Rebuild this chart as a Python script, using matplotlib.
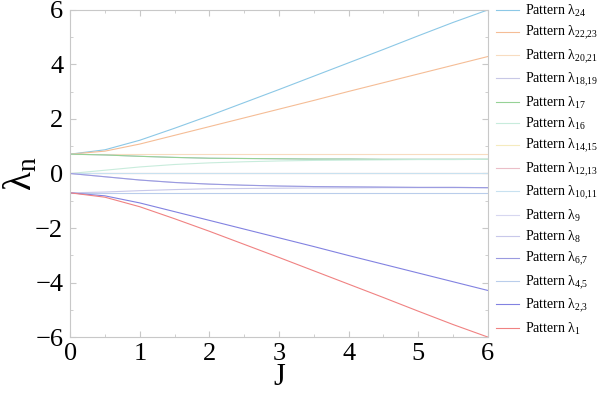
import numpy as np
import matplotlib
matplotlib.use('Agg')
import matplotlib.pyplot as plt

plt.rcParams['font.family'] = 'Liberation Serif'
plt.rcParams['mathtext.fontset'] = 'custom'
plt.rcParams['mathtext.rm'] = 'Liberation Serif'
plt.rcParams['mathtext.it'] = 'Liberation Serif:italic'

# valori
J = [0, 0.5, 1, 1.5, 2, 2.5, 3, 3.5, 4, 4.5, 5, 5.5, 6]

lam24 = [0.71, 0.87, 1.22, 1.66, 2.12, 2.60, 3.08, 3.57, 4.06, 4.55, 5.05, 5.54, 6.0]
lam22_23 = [0.71, 0.82, 1.08, 1.40, 1.72, 2.04, 2.36, 2.68, 3.01, 3.33, 3.65, 3.97, 4.29]
lam20_21 = [0.71, 0.71, 0.71, 0.71, 0.71, 0.71, 0.71, 0.71, 0.71, 0.71, 0.71, 0.71, 0.71]
lam18_19 = [0.71, 0.68, 0.63, 0.59, 0.56, 0.55, 0.54, 0.53, 0.53, 0.52, 0.52, 0.52, 0.52]
lam17 = [0.71, 0.68, 0.63, 0.59, 0.56, 0.55, 0.54, 0.53, 0.53, 0.52, 0.52, 0.52, 0.52]
lam16 = [0.0, 0.12, 0.24, 0.33, 0.39, 0.43, 0.46, 0.48, 0.49, 0.50, 0.51, 0.51, 0.52]
lam14_15 = [0.0, 0.0, 0.0, 0.0, 0.0, 0.0, 0.0, 0.0, 0.0, 0.0, 0.0, 0.0, 0.0]
lam12_13 = [0.0, 0.0, 0.0, 0.0, 0.0, 0.0, 0.0, 0.0, 0.0, 0.0, 0.0, 0.0, 0.0]
lam10_11 = [0.0, 0.0, 0.0, 0.0, 0.0, 0.0, 0.0, 0.0, 0.0, 0.0, 0.0, 0.0, 0.0]
lam9 = [0.0, -0.12, -0.24, -0.33, -0.39, -0.43, -0.46, -0.48, -0.49, -0.50, -0.51, -0.51, -0.52]
lam8 = [-0.71, -0.68, -0.63, -0.59, -0.56, -0.55, -0.54, -0.53, -0.53, -0.52, -0.52, -0.52, -0.52]
lam6_7 = [0.0, -0.12, -0.24, -0.33, -0.39, -0.43, -0.46, -0.48, -0.49, -0.50, -0.51, -0.51, -0.52]
lam4_5 = [-0.71, -0.71, -0.71, -0.71, -0.71, -0.71, -0.71, -0.71, -0.71, -0.71, -0.71, -0.71, -0.71]
lam2_3 = [-0.71, -0.82, -1.08, -1.40, -1.72, -2.04, -2.36, -2.68, -3.01, -3.33, -3.65, -3.97, -4.29]
lam1 = [-0.71, -0.87, -1.22, -1.66, -2.12, -2.60, -3.08, -3.57, -4.06, -4.55, -5.05, -5.54, -6.0]

serie = [lam24, lam22_23, lam20_21, lam18_19, lam17, lam16, lam14_15, lam12_13,
         lam10_11, lam9, lam8, lam6_7, lam4_5, lam2_3, lam1]
nomi = ['24', '22{,}23', '20{,}21', '18{,}19', '17', '16', '14{,}15', '12{,}13',
        '10{,}11', '9', '8', '6{,}7', '4{,}5', '2{,}3', '1']
colori = ['#8cc8e6', '#f5bd96', '#f8dcc0', '#c8c8e6', '#96d296', '#c8ecdc',
          '#f5ebbe', '#ebbec8', '#c8e1f0', '#d7d7f0', '#c8c8ea', '#9a9ae0',
          '#b9cdeb', '#8282e1', '#f08282']

fig = plt.figure(figsize = (6, 3.97), dpi = 100)
ax = fig.add_axes([0.117, 0.151, 0.696, 0.824])

for y, n, c in zip(serie, nomi, colori):
    ax.plot(J, y, color = c, lw = 0.8, label = 'Pattern λ$_{' + n + '}$')

ax.set_xlim(0, 6)
ax.set_ylim(-6, 6)
ax.set_xticks([0, 1, 2, 3, 4, 5, 6])
ax.set_yticks([-6, -4, -2, 0, 2, 4, 6])
ax.set_xticklabels(['0', '1', '2', '3', '4', '5', '6'])
ax.set_yticklabels(['\u22126', '\u22124', '\u22122', '0', '2', '4', '6'])
ax.set_xticks(np.arange(0, 6.01, 0.5), minor = True)
ax.set_yticks(np.arange(-6, 6.01, 1), minor = True)
for s in ax.spines.values():
    s.set_color('#c8c8c8')
ax.tick_params(which = 'both', direction = 'in', top = True, right = True,
               color = '#c8c8c8', labelsize = 19)
ax.tick_params(axis = 'x', pad = 4)
ax.tick_params(axis = 'y', pad = 5)
ax.tick_params(which = 'major', length = 4)
ax.tick_params(which = 'minor', length = 2)

ax.set_xlabel('J', fontsize = 22, labelpad = -1)
ax.set_ylabel('λ$_{\\mathrm{n}}$', fontsize = 28, labelpad = -4)

ax.legend(loc = 'upper left', bbox_to_anchor = (0.822, 1.0), bbox_transform = fig.transFigure,
          frameon = False, fontsize = 10, handlelength = 1.65, handletextpad = 0.45,
          labelspacing = 0.38, borderaxespad = 0, borderpad = 0.2)

plt.savefig('out.png', dpi = 100)
